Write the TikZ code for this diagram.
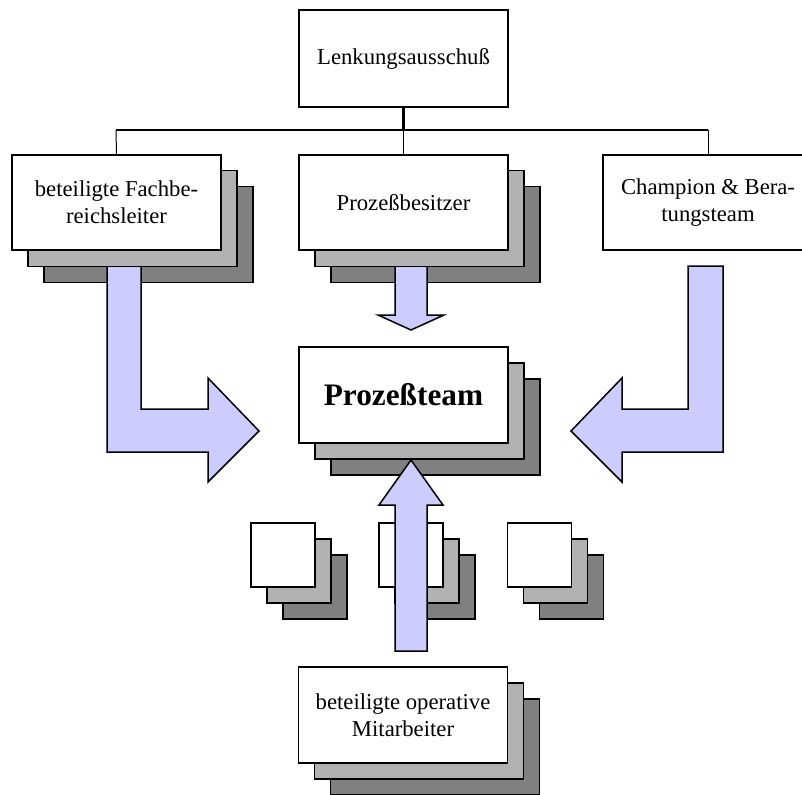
\documentclass[tikz,border=0pt]{standalone}
\usepackage{fontspec}
\setmainfont{Liberation Serif}
\definecolor{arrowblue}{RGB}{204,204,255}
\definecolor{lightshade}{RGB}{178,178,178}
\definecolor{darkshade}{RGB}{128,128,128}
\begin{document}
\begin{tikzpicture}[x=1pt,y=-1pt,
  frontbox/.style={draw,line width=1.5pt,fill=white,inner sep=0pt,align=center,
    font=\fontsize{22.7}{26.7}\selectfont},
  lightbox/.style={frontbox,fill=lightshade},
  darkbox/.style={frontbox,fill=darkshade},
  bigbox/.style={minimum width=209pt,minimum height=96pt},
  smallbox/.style={minimum width=64pt,minimum height=64pt},
  blockarrow/.style={draw,line width=1.5pt,fill=arrowblue,line join=miter},
  busline/.style={line width=1.5pt}]
\useasboundingbox (0,0) rectangle (802,794);

% ---- Lenkungsausschuss and bus ----
\node[frontbox,bigbox,minimum height=97pt] (lenk) at (403.5,58.5) {Lenkungsausschuß};
\coordinate (busL) at (116,130);
\coordinate (busR) at (708,130);

% ---- dark shadows of top stacks ----
\node[darkbox,bigbox] (fachD) at (148.5,234.5) {};
\node[darkbox,bigbox] (besD) at (435.5,234.5) {};

% ---- arrows from top boxes ----
\draw[blockarrow] (107,260) -- (107,452) -- (208,452) -- (208,482) -- (259,431)
  -- (208,378) -- (208,409) -- (141,409) -- (141,260) -- cycle;
\draw[blockarrow] (395,260) -- (395,315) -- (378,315) -- (411,330) -- (444,315)
  -- (427,315) -- (427,260) -- cycle;

% ---- light shadows and front boxes ----
\node[lightbox,bigbox] (fachL) at (132.5,218.5) {};
\node[lightbox,bigbox] (besL) at (419.5,218.5) {};
\node[frontbox,bigbox,minimum height=95pt] (fach) at (116.5,202.5) {beteiligte Fachbe-\\reichsleiter};
\node[frontbox,bigbox,minimum height=95pt] (bes) at (403.5,202.5) {Prozeßbesitzer};
\node[frontbox,bigbox,minimum width=210pt,minimum height=95pt] (champ) at (708,202.5) {Champion \& Bera-\\tungsteam};

\draw[blockarrow] (688,266) -- (688,409) -- (622,409) -- (622,378) -- (571,431)
  -- (622,482) -- (622,452) -- (723,452) -- (723,266) -- cycle;

% connectors
\draw[line width=2.5pt] (lenk.south) -- (lenk.south |- busL);
\draw[busline] (busL) -- (busR);
\draw[line width=1pt] (busL) -- (fach.north);
\draw[line width=1pt] (lenk.south |- busL) -- (bes.north);
\draw[line width=1pt] (busR) -- (champ.north);

% ---- Prozessteam ----
\node[darkbox,bigbox] (teamD) at (435.5,427) {};
\node[lightbox,bigbox] (teamL) at (419.5,411) {};
\node[frontbox,bigbox,font=\fontsize{31.3}{36}\selectfont\bfseries] (team) at (403.5,395) {Prozeßteam};

% ---- small stacks ----
\node[darkbox,smallbox] (s1D) at (315,587) {};
\node[lightbox,smallbox] (s1L) at (299,571) {};
\node[frontbox,smallbox] (s1) at (283,555) {};
\node[darkbox,smallbox] (s2D) at (443,587) {};
\node[lightbox,smallbox] (s2L) at (427,571) {};
\node[frontbox,smallbox] (s2) at (411,555) {};
\node[darkbox,smallbox] (s3D) at (571.5,587) {};
\node[lightbox,smallbox] (s3L) at (555.5,571) {};
\node[frontbox,smallbox] (s3) at (539.5,555) {};

% ---- bottom stack ----
\node[darkbox,bigbox] (mitD) at (435,747) {};
\node[lightbox,bigbox] (mitL) at (419,731) {};
\node[frontbox,bigbox] (mit) at (403,715) {beteiligte operative\\Mitarbeiter};

% ---- up arrow ----
\draw[blockarrow] (395,651) -- (395,505) -- (379,505) -- (411,460) -- (443,505)
  -- (427,505) -- (427,651) -- cycle;
\end{tikzpicture}
\end{document}
